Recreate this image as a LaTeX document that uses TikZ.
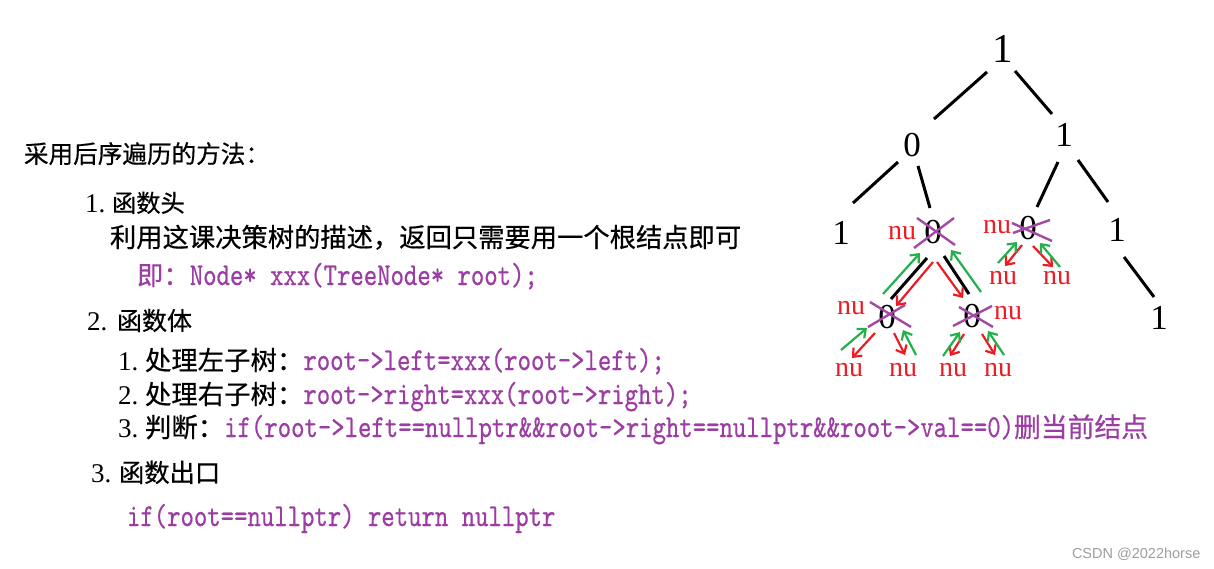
\documentclass[tikz,border=0pt]{standalone}
\usepackage{fontspec}
\usepackage{graphicx}
\newfontfamily\cjk{Noto Sans CJK SC}[FakeBold=0.5]
\newfontfamily\serifnum{Liberation Serif}
\newfontfamily\wm{Liberation Sans}
\newfontfamily\codefont{lmmono10-regular.otf}[FakeBold=0.6]
\usetikzlibrary{arrows.meta,calc}
\definecolor{codepurple}{HTML}{9B3DA3}
\definecolor{xpurple}{HTML}{A349A4}
\definecolor{pred}{HTML}{ED1C24}
\definecolor{pgreen}{HTML}{22B14C}
\newcommand{\cj}[2]{{\cjk\fontsize{#1}{#1}\selectfont #2}}
\newcommand{\cd}[1]{{\color{codepurple}\scalebox{1}[1.25]{\codefont\fontsize{25.5}{25.5}\selectfont#1}}}
\newcommand{\nm}[3]{\makebox[#1pt][l]{\serifnum\fontsize{#2}{#2}\selectfont #3}}
\begin{document}
\begin{tikzpicture}[x=1pt,y=-1pt,
 txt/.style={anchor=base west,inner sep=0pt,outer sep=0pt},
 dig/.style={inner sep=0pt,font=\serifnum\fontsize{35}{35}\selectfont},
 nul/.style={inner sep=0pt,text=pred,font=\serifnum\fontsize{28}{28}\selectfont},
 edge/.style={line width=3pt,black},
 cross/.style={line width=2.4pt,xpurple},
 down/.style={line width=2.2pt,pred,-{Straight Barb[length=7pt,width=12pt]}},
 up/.style={line width=2.2pt,pgreen,-{Straight Barb[length=7pt,width=12pt]}}
]
\useasboundingbox (0,0) rectangle (1214,568);
\fill[white] (0,0) rectangle (1214,568);

% ---------- left text ----------
\node[txt] (t0) at (24,163) {\cj{24.6}{采用后序遍历的方法：}};
\node[txt] (t1) at (85,212) {\nm{27}{27}{1.}\cj{24.3}{函数头}};
\node[txt] (t2) at (110,247) {\cj{26.3}{利用这课决策树的描述，返回只需要用一个根结点即可}};
\node[txt] (t3) at (137,285) {{\color{codepurple}\cj{26.4}{即：}}\cd{Node* xxx(TreeNode* root);}};
\node[txt] (t4) at (87,330) {\nm{30}{27}{2.}\cj{25}{函数体}};
\node[txt] (t5) at (118,370) {\nm{27}{27}{1.}\cj{26.4}{处理左子树：}\cd{root->left=xxx(root->left);}};
\node[txt] (t6) at (118,404) {\nm{27}{27}{2.}\cj{26.4}{处理右子树：}\cd{root->right=xxx(root->right);}};
\node[txt] (t7) at (118,437) {\nm{27}{27}{3.}\cj{26.4}{判断：}\cd{if(root->left==nullptr\&\&root->right==nullptr\&\&root->val==0)}{\color{codepurple}\cj{26.8}{删当前结点}}};
\node[txt] (t8) at (91,482) {\nm{28}{27}{3.}\cj{25.3}{函数出口}};
\node[txt] (t9) at (127,526) {\cd{if(root==nullptr) return nullptr}};

\node[txt,text=black!38] (wm) at (1072,558) {\wm\fontsize{14.5}{14.5}\selectfont CSDN @2022horse};

% ---------- tree ----------
\node[dig,font=\serifnum\fontsize{41}{41}\selectfont] (r) at (1003,49) {1};
\node[dig] (a) at (912,145) {0};
\node[dig] (b) at (1064,135) {1};
\node[dig] (l1) at (841,233) {1};
\node[dig] (A) at (933,232) {0};
\node[dig] (B) at (1028,228) {0};
\node[dig] (r1) at (1117,230) {1};
\node[dig] (r2) at (1159,318) {1};
\node[dig] (C) at (887,317) {0};
\node[dig] (D) at (972,316) {0};

\node[nul] (nA) at (902,233) {nu};
\node[nul] (nB) at (997,227) {nu};
\node[nul] (nB1) at (1003,278) {nu};
\node[nul] (nB2) at (1057,278) {nu};
\node[nul] (nC) at (851,308) {nu};
\node[nul] (nD) at (1008,313) {nu};
\node[nul] (nC1) at (849,370) {nu};
\node[nul] (nC2) at (903,370) {nu};
\node[nul] (nD1) at (953,370) {nu};
\node[nul] (nD2) at (998,370) {nu};

% black edges
\draw[edge] ($(r)+(-16,23)$) -- ($(a)+(22,-26)$);
\draw[edge] ($(r)+(12,22)$) -- ($(b)+(-12,-21)$);
\draw[edge] ($(a)+(-14,17)$) -- ($(l1)+(12,-30)$);
\draw[edge] ($(a)+(6,21)$) -- ($(A)+(-3,-24)$);
\draw[edge] ($(b)+(-6,27)$) -- ($(B)+(9,-21)$);
\draw[edge] ($(b)+(14,25)$) -- ($(r1)+(-9,-28)$);
\draw[edge] ($(r1)+(7,27)$) -- ($(r2)+(-5,-21)$);
\draw[edge] ($(A)+(-6,26)$) -- ($(C)+(4,-18)$);
\draw[edge] ($(A)+(11,24)$) -- ($(D)+(-3,-22)$);

% crosses
\draw[cross] ($(A)+(-16,-14)$) -- ($(A)+(22,13)$);
\draw[cross] ($(A)+(-19,16)$) -- ($(A)+(21,-14)$);
\draw[cross] ($(B)+(-16,-5)$) -- ($(B)+(24,13)$);
\draw[cross] ($(B)+(-15,5)$) -- ($(B)+(22,-8)$);
\draw[cross] ($(C)+(-17,-15)$) -- ($(C)+(24,10)$);
\draw[cross] ($(C)+(-19,10)$) -- ($(C)+(18,-12)$);
\draw[cross] ($(D)+(-13,-9)$) -- ($(D)+(21,11)$);
\draw[cross] ($(D)+(-19,10)$) -- ($(D)+(20,-10)$);

% red (down) arrows
\draw[down] ($(A)+(0,30)$) -- ($(C)+(9,-11)$);
\draw[down] ($(A)+(4,30)$) -- ($(D)+(-9,-18)$);
\draw[down] ($(B)+(-6,17)$) -- ($(nB1)+(2,-12)$);
\draw[down] ($(B)+(5,18)$) -- ($(nB2)+(-4,-11)$);
\draw[down] ($(C)+(-12,16)$) -- ($(nC1)+(3,-12)$);
\draw[down] ($(C)+(7,16)$) -- ($(nC2)+(2,-15)$);
\draw[down] ($(D)+(-8,18)$) -- ($(nD1)+(-3,-14)$);
\draw[down] ($(D)+(10,18)$) -- ($(nD2)+(-3,-15)$);

% green (up) arrows
\draw[up] ($(C)+(-4,-23)$) -- ($(A)+(-13,21)$);
\draw[up] ($(D)+(9,-24)$) -- ($(A)+(18,18)$);
\draw[up] ($(nB1)+(-5,-15)$) -- ($(B)+(-11,14)$);
\draw[up] ($(nB2)+(3,-11)$) -- ($(B)+(12,15)$);
\draw[up] ($(nC1)+(-8,-20)$) -- ($(C)+(-20,11)$);
\draw[up] ($(nC2)+(13,-15)$) -- ($(C)+(16,13)$);
\draw[up] ($(nD1)+(-10,-14)$) -- ($(D)+(-12,16)$);
\draw[up] ($(nD2)+(6,-15)$) -- ($(D)+(16,15)$);
\end{tikzpicture}
\end{document}
